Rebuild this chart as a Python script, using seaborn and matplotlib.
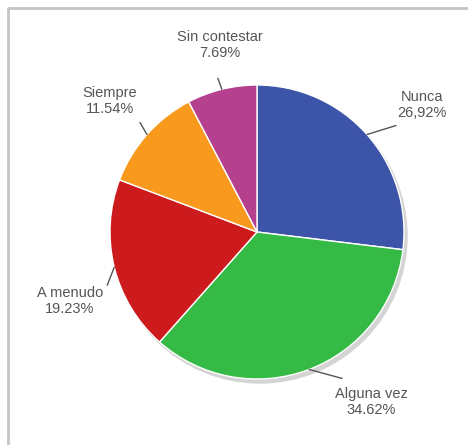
import numpy as np
import matplotlib
matplotlib.use("Agg")
import matplotlib.pyplot as plt
from matplotlib.patches import Circle
import seaborn as sns

# data
categories = ["Nunca", "Alguna vez", "A menudo", "Siempre", "Sin contestar"]
shares = [26.92, 34.62, 19.23, 11.54, 7.69]
pct_labels = ["26,92%", "34.62%", "19.23%", "11.54%", "7.69%"]
colors = ["#3d55a8", "#35bb45", "#cc1a1d", "#f99a1e", "#b5418e"]

sns.set_style("white")
plt.rcParams["font.family"] = ["Liberation Sans", "DejaVu Sans"]

W, H = 468, 445
fig = plt.figure(figsize=(W / 100, H / 100), dpi=100)
ax = fig.add_axes([0, 0, 1, 1])
ax.set_xlim(0, W)
ax.set_ylim(H, 0)   # pixel coords, y down
ax.set_aspect("equal")
ax.axis("off")

cx, cy, r = 257, 232, 147

# soft shadow behind the pie
ax.add_patch(Circle((cx + 3, cy + 4), r, color="#d4d4d4", zorder=0))

palette = sns.color_palette(colors)
# y axis is inverted, so counterclock=True draws clockwise on screen
wedges, _ = ax.pie(shares, colors=palette, startangle=-90, counterclock=True,
                   center=(cx, cy), radius=r, frame=True,
                   wedgeprops=dict(edgecolor="white", linewidth=1))
ax.set_xlim(0, W)
ax.set_ylim(H, 0)
ax.axis("off")

# label layout: (line offset from wedge edge, text position)
layout = {
    "Nunca":         ((29, -9),  (422, 105)),
    "Alguna vez":    ((33, 9),   (371, 402)),
    "A menudo":      ((-7, 18),  (70, 301)),
    "Siempre":       ((-7, -12), (110, 101)),
    "Sin contestar": ((-4, -11), (220, 45)),
}

for w, cat, pct in zip(wedges, categories, pct_labels):
    mid = np.deg2rad((w.theta1 + w.theta2) / 2)
    ex, ey = cx + r * np.cos(mid), cy + r * np.sin(mid)
    (dx, dy), (tx, ty) = layout[cat]
    ax.plot([ex, ex + dx], [ey, ey + dy], color="#555555", lw=1, zorder=3)
    ax.text(tx, ty, f"{cat}\n{pct}", ha="center", va="center", fontsize=10.5,
            color="#555555", linespacing=1.15)

# grey frame on top and left edge
ax.plot([7.5, 7.5, W], [H, 7.5, 7.5], color="#c4c4c4", lw=2, solid_capstyle="butt",
        clip_on=False)

fig.savefig("out.png", dpi=100)
